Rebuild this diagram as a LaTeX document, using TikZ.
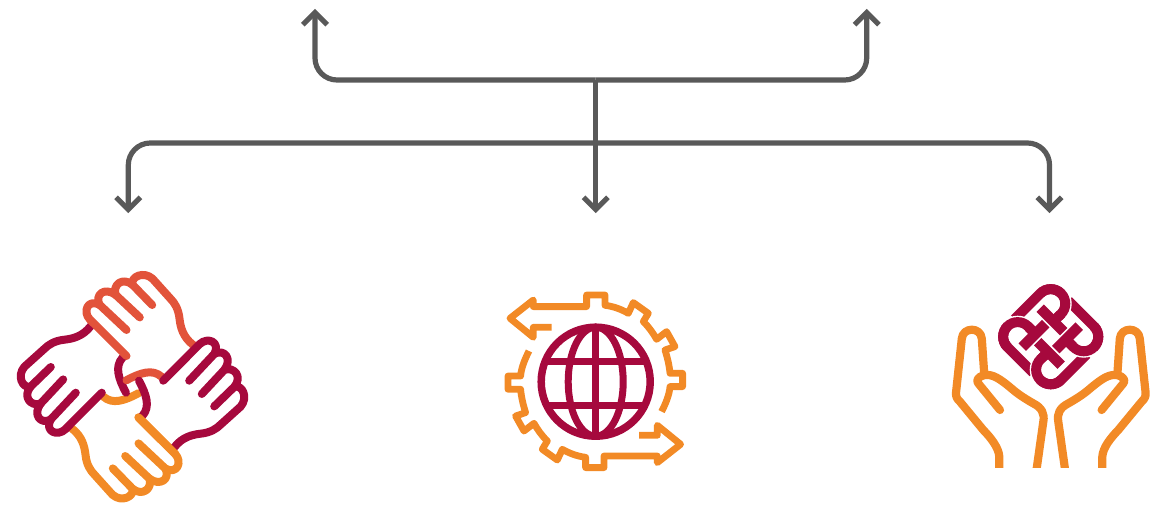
\documentclass[tikz,border=0pt]{standalone}
\usepackage{tikz}
\usetikzlibrary{arrows.meta}
\definecolor{polyRed}{HTML}{A6093D}
\definecolor{polyOrange}{HTML}{F28A26}
\definecolor{polyCoral}{HTML}{E2533A}
\definecolor{flowGrey}{HTML}{595959}
\pgfdeclarearrow{
	name=Chevron,
	setup code={
		\pgfarrowssettipend{0pt}
		\pgfarrowssetlineend{-4pt}
		\pgfarrowssetvisualbackend{-4pt}
		\pgfarrowssetbackend{-17pt}
		\pgfarrowshullpoint{0pt}{0pt}
		\pgfarrowshullpoint{-17pt}{14pt}
		\pgfarrowshullpoint{-17pt}{-14pt}
	},
	drawing code={
		\pgfsetlinewidth{5.2pt}
		\pgfsetmiterjoin
		\pgfsetbuttcap
		\pgfpathmoveto{\pgfqpoint{-15.7pt}{12.2pt}}
		\pgfpathlineto{\pgfqpoint{-3.5pt}{0pt}}
		\pgfpathlineto{\pgfqpoint{-15.7pt}{-12.2pt}}
		\pgfusepathqstroke
	},
}
\tikzset{
	flow/.style={draw=flowGrey, line width=5.2pt, rounded corners=22pt},
	flowtip/.style={-Chevron},
	icon/.style={line width=8pt, line cap=round, line join=round},
	hand/.pic={
		\draw[icon, draw=#1] (-29,10) .. controls (-20,18) and (-8,14) .. (6,6.5);
		\draw[icon, draw=#1] (6,30.7) -- (42.7,67.3) .. controls (50,75) and (45,88) .. (33,82)
			.. controls (38,92) and (28,100) .. (17,92)
			.. controls (20,102) and (10,110) .. (0,102)
			.. controls (2,110) and (-11,116) .. (-20,108)
			-- (-38,88) .. controls (-42,84) and (-46,78) .. (-47,68)
			.. controls (-48,60) and (-50,50) .. (-60.7,41.7);
		\draw[icon, draw=#1] (6,56.7) -- (33,82);
		\draw[icon, draw=#1] (-7.3,69.3) -- (17,92);
		\draw[icon, draw=#1] (-19.7,81.7) -- (0,102);
	},
	handindex/.pic={
		\draw[icon, draw=#1] (6,30.7) -- (42.7,67.3);
	},
	gearhalf/.pic={
		\draw[icon, line width=6.8pt, line cap=butt, draw=polyOrange] (-43.7,-54) -- (-62,-54) -- (-62,-44) -- (-85.3,-63) -- (-62,-81.3)
			-- (-62,-74.7) -- (-8.7,-74.7) -- (-8.7,-86.3) -- (9.7,-86.3) -- (9.7,-76)
			.. controls (18,-75) and (26,-72) .. (33,-68) -- (38,-78.7) -- (53,-68) -- (48,-59.7)
			.. controls (53,-55) and (58,-48) .. (61.3,-42) -- (71.3,-49.7) -- (79.7,-34.7) -- (69.7,-31.3)
			.. controls (72,-24) and (74,-16) .. (74.7,-8) -- (87.3,-8) -- (87.3,5.3) -- (74.7,5.3)
			.. controls (74,14) and (70,23) .. (66.3,30.3);
	},
	openhand/.pic={
		\clip (-120,-160) rectangle (0,0);
		% fingers and the cut at the wrist
		\draw[icon, line width=8.2pt, draw=polyOrange] (-51.5,5) -- (-51.5,-11) .. controls (-52,-20) and (-60,-30) .. (-67.5,-37.7)
			-- (-90.8,-66) .. controls (-94,-69) and (-95,-71) .. (-94.8,-75)
			-- (-89,-129) .. controls (-88,-141) and (-70,-141) .. (-69,-129) -- (-66.5,-92.7)
			.. controls (-58,-93.5) and (-52,-90) .. (-37.5,-77.7)
			.. controls (-32,-73) and (-24,-68) .. (-17.5,-64.3)
			.. controls (-9,-60) and (-6,-54) .. (-7.5,-46) -- (-14.7,5);
		% thumb
		\draw[icon, line width=8.2pt, draw=polyOrange] (-66.5,-92.7) .. controls (-73,-91) and (-75,-87) .. (-72.5,-84.3) -- (-50.8,-57.7);
	},
	logopiece/.pic={
		\draw[line width=10pt, draw=polyRed] (-36,-17.6) -- (-10.3,-43.3)
			.. controls (-4.6,-49) and (4.6,-49) .. (10.3,-43.3)
			.. controls (16,-37.6) and (16,-28.4) .. (10.3,-22.7) -- (2.65,-15.35);
		\draw[line width=10.5pt, draw=polyRed] (-10.5,-28.5) -- (13,-5);
	},
	logogap/.pic={
		\draw[line width=12.8pt, draw=white] (10.3,-43.3) .. controls (16,-37.6) and (16,-28.4) .. (10.3,-22.7);
		\draw[line width=10pt, draw=polyRed] (-10.3,-43.3)
			.. controls (-4.6,-49) and (4.6,-49) .. (10.3,-43.3)
			.. controls (16,-37.6) and (16,-28.4) .. (10.3,-22.7) -- (2.65,-15.35);
	},
}
\begin{document}
\begin{tikzpicture}[x=1pt,y=-1pt]
	\useasboundingbox (0,0) rectangle (1161,506);
	
	% Junctions and free ends of the arrows
	\coordinate (busUp) at (595.7,80);
	\coordinate (busDown) at (595.7,143);
	\coordinate (tipUpLeft) at (315,9);
	\coordinate (tipUpRight) at (866.7,9);
	\coordinate (tipLeft) at (128.3,213);
	\coordinate (tipMid) at (595.7,213);
	\coordinate (tipRight) at (1049.5,213);
	
	% Draw the arrows
	\draw[flow, flowtip] (busUp) -| (tipUpLeft);
	\draw[flow, flowtip] (busUp) -| (tipUpRight);
	\draw[flow, flowtip] (busUp) -- (tipMid);
	\draw[flow, flowtip] (busDown) -| (tipLeft);
	\draw[flow, flowtip] (busDown) -| (tipRight);
	
	% Four hands
	\pic at (132.5,386.7) {hand=polyOrange};
	\pic[rotate=-90] at (132.5,386.7) {hand=polyRed};
	\pic[rotate=180] at (132.5,386.7) {hand=polyCoral};
	\pic[rotate=90] at (132.5,386.7) {hand=polyRed};
	\pic at (132.5,386.7) {handindex=polyOrange};
	
	% Globe inside the gear
	\pic at (595.3,381.3) {gearhalf};
	\pic[rotate=180] at (595.3,381.3) {gearhalf};
	\draw[icon, line width=7.5pt, draw=polyRed] (595.7,381.7) circle (54.5);
	\draw[icon, line width=7pt, draw=polyRed] (595.7,381.7) ellipse (27.5 and 54.5);
	\draw[icon, line width=7pt, draw=polyRed] (595.7,327.2) -- (595.7,436.2);
	\draw[icon, line width=7pt, line cap=butt, draw=polyRed] (547,361.7) -- (644,361.7);
	\draw[icon, line width=7pt, line cap=butt, draw=polyRed] (547,405) -- (644,405);
	
	% Open hands under the logo
	\pic at (1050.8,467.7) {openhand};
	\pic[xscale=-1] at (1050.8,467.7) {openhand};
	\foreach \ang in {0,-90,180,90}
		\pic[rotate=\ang] at (1050.7,336.7) {logopiece};
	\foreach \ang in {0,-90,180,90}
		\pic[rotate=\ang] at (1050.7,336.7) {logogap};
\end{tikzpicture}
\end{document}
